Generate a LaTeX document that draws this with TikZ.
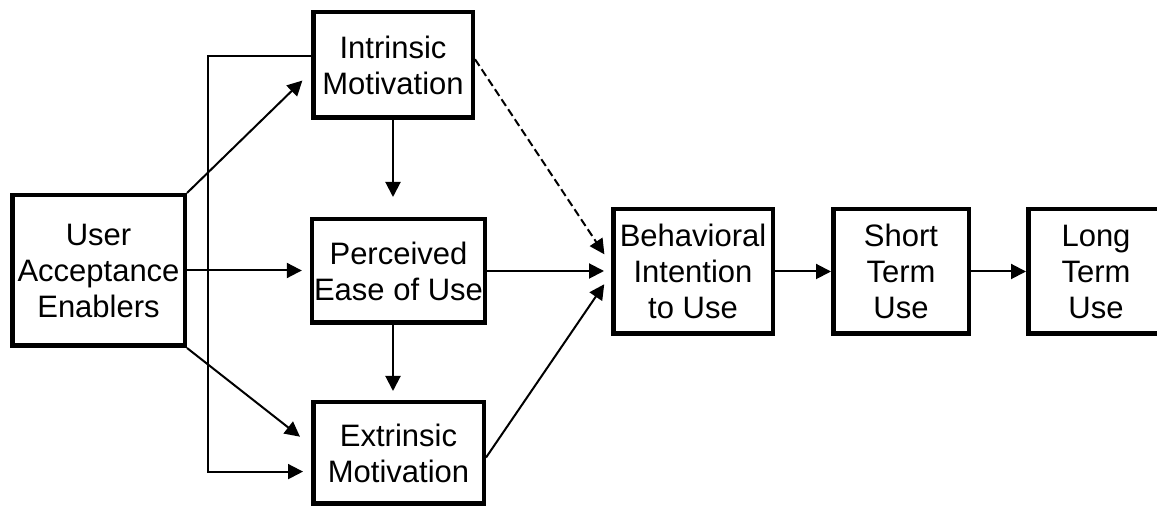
\documentclass[tikz,border=0pt]{standalone}
\usepackage{fontspec}
\setmainfont{Liberation Sans}
\usetikzlibrary{arrows.meta}

\begin{document}
\begin{tikzpicture}[x=0.5pt, y=0.5pt, >={Triangle[length=7.5pt, width=7.5pt]}, line width=1pt]
    \path[use as bounding box, clip] (0,0) rectangle (1157,508);
    \begin{scope}[every node/.style={
        rectangle,
        draw=black,
        line width=2.25pt,
        inner sep=1pt,
        align=center,
        font=\fontsize{15.5pt}{18pt}\selectfont}]
        \node[minimum width=86.25pt, minimum height=75.25pt] (uae) at (98.5,237.5) {User\\Acceptance\\Enablers};
        \node[minimum width=79.75pt, minimum height=52.75pt] (im) at (393,443) {Intrinsic\\Motivation};
        \node[minimum width=85.25pt, minimum height=51.75pt] (peou) at (398.5,237) {Perceived\\Ease of Use};
        \node[minimum width=85.25pt, minimum height=50.75pt] (em) at (398.5,55) {Extrinsic\\Motivation};
        \node[minimum width=79.75pt, minimum height=62.25pt] (bi) at (693,236.5) {Behavioral\\Intention\\to Use};
        \node[minimum width=67.75pt, minimum height=62.25pt] (stu) at (901,236.5) {Short\\Term\\Use};
        \node[minimum width=67.75pt, minimum height=62.25pt] (ltu) at (1096,236.5) {Long\\Term\\Use};
    \end{scope}
    \draw[->, shorten >=6pt] (uae.north east) -- (im.185);
    \draw[->, shorten >=4pt] (uae.east) -- (uae.east -| peou.west);
    \draw[->, shorten >=7pt] (uae.south east) -- (em.175);
    \draw[->, shorten >=4pt] (im.174) -| ([xshift=10.5pt]uae.east) |- (em.192);
    \draw[->, shorten >=10pt] (im.south) -- (im.south |- peou.north);
    \draw[->, shorten >=4.5pt] (peou.south -| im.south) -- (im.south |- em.north);
    \draw[->, dash pattern=on 4pt off 2pt, shorten >=6pt] (im.4) -- (bi.175);
    \draw[->, shorten >=3.5pt] (peou.east) -- (peou.east -| bi.west);
    \draw[->, shorten >=6pt] (em.-3) -- (bi.182);
    \draw[->] (bi.east) -- (stu.west);
    \draw[->] (stu.east) -- (ltu.west);
\end{tikzpicture}
\end{document}
